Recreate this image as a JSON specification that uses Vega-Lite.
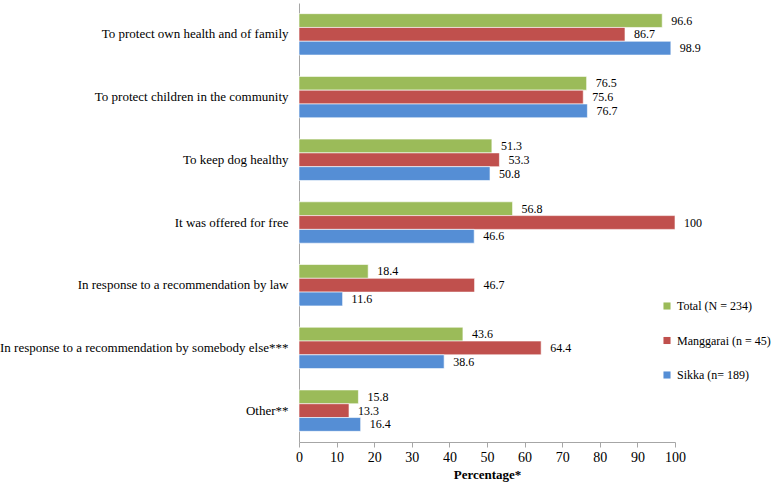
{
  "$schema": "https://vega.github.io/schema/vega-lite/v6.json",
  "width": 376,
  "height": 439,
  "autosize": {"type": "none"},
  "padding": {"left": 299, "top": 3, "right": 99, "bottom": 42},
  "background": "white",
  "config": {
    "view": {"stroke": null},
    "font": "Times New Roman",
    "axis": {"labelFont": "Times New Roman", "titleFont": "Times New Roman", "labelColor": "#000", "titleColor": "#000", "domainColor": "#a6a6a6", "tickColor": "#a6a6a6", "grid": false},
    "legend": {"labelFont": "Times New Roman", "labelColor": "#000"},
    "text": {"font": "Times New Roman"}
  },
  "data": {
    "values": [
      {"reason": "To protect own health and of family", "group": "Total (N = 234)", "pct": 96.6},
      {"reason": "To protect own health and of family", "group": "Manggarai (n = 45)", "pct": 86.7},
      {"reason": "To protect own health and of family", "group": "Sikka (n= 189)", "pct": 98.9},
      {"reason": "To protect children in the community", "group": "Total (N = 234)", "pct": 76.5},
      {"reason": "To protect children in the community", "group": "Manggarai (n = 45)", "pct": 75.6},
      {"reason": "To protect children in the community", "group": "Sikka (n= 189)", "pct": 76.7},
      {"reason": "To keep dog healthy", "group": "Total (N = 234)", "pct": 51.3},
      {"reason": "To keep dog healthy", "group": "Manggarai (n = 45)", "pct": 53.3},
      {"reason": "To keep dog healthy", "group": "Sikka (n= 189)", "pct": 50.8},
      {"reason": "It was offered for free", "group": "Total (N = 234)", "pct": 56.8},
      {"reason": "It was offered for free", "group": "Manggarai (n = 45)", "pct": 100},
      {"reason": "It was offered for free", "group": "Sikka (n= 189)", "pct": 46.6},
      {"reason": "In response to a recommendation by law", "group": "Total (N = 234)", "pct": 18.4},
      {"reason": "In response to a recommendation by law", "group": "Manggarai (n = 45)", "pct": 46.7},
      {"reason": "In response to a recommendation by law", "group": "Sikka (n= 189)", "pct": 11.6},
      {"reason": "In response to a recommendation by somebody else***", "group": "Total (N = 234)", "pct": 43.6},
      {"reason": "In response to a recommendation by somebody else***", "group": "Manggarai (n = 45)", "pct": 64.4},
      {"reason": "In response to a recommendation by somebody else***", "group": "Sikka (n= 189)", "pct": 38.6},
      {"reason": "Other**", "group": "Total (N = 234)", "pct": 15.8},
      {"reason": "Other**", "group": "Manggarai (n = 45)", "pct": 13.3},
      {"reason": "Other**", "group": "Sikka (n= 189)", "pct": 16.4}
    ]
  },
  "encoding": {
    "y": {
      "field": "reason", "type": "nominal", "sort": null,
      "scale": {"paddingInner": 0.34, "paddingOuter": 0.17},
      "axis": {"title": null, "ticks": false, "labelFontSize": 13, "labelPadding": 11, "labelLimit": 400}
    },
    "yOffset": {
      "field": "group", "type": "nominal",
      "sort": ["Total (N = 234)", "Manggarai (n = 45)", "Sikka (n= 189)"],
      "scale": {"paddingInner": 0, "paddingOuter": 0}
    },
    "x": {
      "field": "pct", "type": "quantitative",
      "scale": {"domain": [0, 100], "nice": false},
      "axis": {"title": "Percentage*", "titleFontSize": 13, "titleFontWeight": "bold", "titlePadding": 4, "values": [0,10,20,30,40,50,60,70,80,90,100], "labelOverlap": false, "labelFlush": false, "labelFontSize": 14, "tickSize": 5, "labelPadding": 3}
    }
  },
  "layer": [
    {
      "mark": {"type": "bar", "stroke": "white", "strokeWidth": 0.6},
      "encoding": {
        "color": {
          "field": "group", "type": "nominal",
          "scale": {"domain": ["Total (N = 234)", "Manggarai (n = 45)", "Sikka (n= 189)"], "range": ["#9bbb59", "#c0504d", "#558ed5"]},
          "legend": {"title": null, "orient": "none", "legendX": 362, "legendY": 297, "symbolType": "square", "symbolSize": 50, "labelFontSize": 12, "labelLimit": 200, "rowPadding": 22.5, "symbolStrokeWidth": 0}
        }
      }
    },
    {
      "mark": {"type": "text", "align": "left", "dx": 9, "fontSize": 12, "color": "#000", "font": "Times New Roman"},
      "encoding": {"text": {"field": "pct", "type": "quantitative"}}
    }
  ]
}
